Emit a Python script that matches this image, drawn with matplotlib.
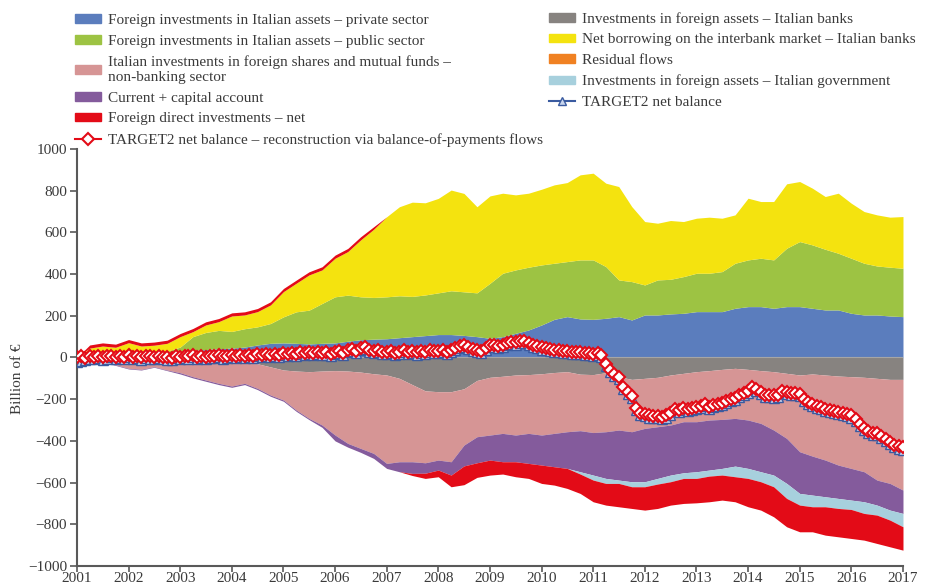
import numpy as np
import pandas as pd
import matplotlib
matplotlib.use("Agg")
import matplotlib.pyplot as plt
import matplotlib.dates as mdates
from matplotlib.patches import Patch
from matplotlib.lines import Line2D

plt.rcParams['font.family'] = ['Liberation Serif', 'DejaVu Serif']

# quarterly observations, 2001Q1 .. 2017Q1 (billion of euro, cumulated flows)
quarters = pd.date_range('2001-01-01', '2017-01-01', freq='QS')
months = pd.date_range('2001-01-01', '2017-01-01', freq='MS')

private = [0, 5, 10, 12, 15, 18, 20, 25, 30, 35, 38, 42, 45, 50, 60, 68, 70, 68, 65, 68,
           70, 78, 85, 88, 90, 95, 100, 105, 110, 110, 106, 100, 92,
           100, 116, 132, 156, 183, 196, 185, 183, 188, 196, 180, 204, 204, 209, 212, 220,
           220, 220, 236, 244, 244, 236, 244, 244, 236, 228, 228, 212, 204, 204, 199, 196]
public = [0, 2, 3, 3, 5, 3, 3, 5, 20, 65, 82, 88, 80, 88, 87, 95, 125, 151, 162, 191,
          221, 221, 206, 200, 201, 201, 193, 195, 200, 210, 209, 210, 264,
          304, 304, 301, 288, 269, 264, 283, 285, 248, 176, 184, 144, 168, 166, 176, 184,
          184, 192, 216, 224, 232, 232, 280, 312, 304, 291, 272, 264, 248, 235, 234, 232]
banks = [0, -2, -2, -3, 12, 10, -3, -3, -3, -3, -3, -3,
         -5, -15, -30, -45, -60, -65, -68, -65, -63, -65, -70, -78, -84, -100, -130, -160,
         -164, -164, -150, -110,
         -95, -90, -84, -82, -78, -72, -68, -80, -82, -73, -92, -105, -100, -95, -84, -76,
         -68, -63, -57, -52, -57, -63, -68, -76, -84, -79, -84, -89, -92, -95, -100, -105, -105]
interbank = [0, 38, 42, 34, 39, 24, 36, 38, 50, 24, 36, 42, 74, 66, 73, 89, 121, 137, 169, 161,
             185, 209, 273, 327, 384, 427, 452, 442, 453, 483, 472, 413, 419,
             384, 360, 355, 363, 376, 379, 408, 416, 400, 448, 360, 304, 272, 282, 264, 264,
             269, 256, 232, 296, 272, 280, 309, 288, 272, 253, 288, 264, 248, 245, 240, 248]
shares = [0, -8, -18, -32, -52, -57, -41, -57, -70, -89, -105, -121, -132, -109, -118, -135,
          -144, -187, -224, -259, -309, -347, -366, -382, -424, -400, -370, -345,
          -328, -336, -270, -270, -277, -274, -288, -282, -294, -292, -288, -271, -278,
          -283, -256, -251, -240, -237, -240, -232, -240, -237, -240, -240, -243, -253, -280,
          -312, -368, -394, -408, -427, -440, -453, -488, -499, -531]
current_acc = [0, -3, -3, -3, -3, -3, -3, -3, -6, -6, -6, -6, -6, -6, -6, -6, -6, -6, -6,
               -11, -28, -18, -19, -24, -24, -48, -56, -50, -48, -64, -100, -125, -120,
               -136, -128, -144, -144, -160, -176, -197, -204, -224, -240, -240, -256, -248,
               -240, -245, -240, -240, -235, -229, -232, -232, -216, -216, -200, -187, -176,
               -160, -152, -144, -120, -128, -112]
residual = [0] * 65
government = [0] * 39 + [-11, -24, -24, -16, -24, -24, -27, -32, -27, -32, -29, -32, -51,
                         -48, -48, -56, -72, -56, -56, -48, -48, -45, -56, -48, -48, -64]
fdi = [0, 15, 15, 15, 15, 15, 15, 15, 15, 15, 15, 15, 15, 15, 15, 15, 15, 15, 15, 15, 15,
       15, 15, 12, 0, 0, -10, -25, -32, -56, -90, -70, -72,
       -59, -72, -72, -88, -88, -96, -93, -104, -104, -112, -104, -112, -117, -112, -120,
       -117, -123, -120, -120, -136, -136, -144, -136, -128, -120, -136, -136, -139, -128,
       -136, -128, -112]

# monthly balances
target2 = [-20, -15, -12, -5, -8, -2, -10, -5, 0, -8, -4, -6,
           0, -8, -4, -10, -2, -6, -8, -3, -6, -10, -12, -4,
           -8, -2, -6, 0, -6, -3, -7, -1, -4, 1, -5, -2,
           0, -4, 2, -2, 4, -1, 5, 1, 6, 2, 8, 4,
           10, 5, 12, 8, 15, 10, 18, 12, 16, 10, 14, 8,
           15, 20, 12, 25, 30, 22, 35, 40, 28, 20, 25, 18,
           15, 20, 12, 18, 25, 16, 20, 14, 22, 18, 26, 20,
           20, 24, 18, 26, 35, 45, 48, 40, 32, 26, 22, 35,
           52, 48, 45, 52, 60, 66, 62, 70, 68, 58, 52, 45,
           38, 35, 30, 26, 28, 22, 20, 18, 16, 15, 12, 10,
           8, 10, 0, -40, -70, -90, -105, -150, -175, -195, -250, -275,
           -282, -288, -290, -292, -294, -288, -275, -255, -260, -250, -258, -250,
           -246, -242, -235, -248, -238, -232, -228, -220, -210, -202, -190, -182,
           -170, -150, -160, -175, -188, -190, -192, -188, -170, -175, -180, -178,
           -185, -210, -225, -235, -242, -248, -255, -260, -265, -272, -278, -282,
           -288, -305, -328, -350, -362, -370, -372, -385, -402, -415, -428, -440,
           -445]
recon = [0, 5, -2, 8, 3, 6, 0, 5, 8, 2, 6, 4,
         10, 3, 6, 0, 8, 5, 2, 7, 4, 0, -3, 6,
         2, 8, 5, 10, 4, 7, 3, 9, 6, 11, 5, 8,
         10, 6, 12, 8, 14, 9, 15, 11, 16, 12, 18, 14,
         20, 15, 22, 18, 25, 20, 28, 22, 26, 20, 24, 18,
         25, 30, 22, 35, 40, 32, 45, 50, 38, 30, 35, 28,
         25, 30, 22, 28, 35, 26, 30, 24, 32, 28, 36, 30,
         30, 34, 28, 36, 45, 55, 58, 50, 42, 36, 32, 45,
         62, 58, 55, 62, 70, 76, 72, 80, 78, 68, 62, 55,
         48, 45, 40, 36, 38, 32, 30, 28, 26, 25, 22, 20,
         18, 20, 10, -30, -60, -80, -95, -140, -165, -185, -240, -265,
         -272, -278, -280, -282, -284, -278, -265, -245, -250, -240, -248, -240,
         -236, -232, -225, -238, -228, -222, -218, -210, -200, -192, -180, -172,
         -160, -140, -150, -165, -178, -180, -182, -178, -160, -165, -170, -168,
         -175, -200, -215, -225, -232, -238, -245, -250, -255, -262, -268, -272,
         -278, -295, -318, -340, -352, -360, -362, -375, -392, -405, -418, -425,
         -430]

area_series = [private, public, banks, interbank, shares, current_acc, residual, government, fdi]
area_colors = ['#5b7dbd', '#9dc343', '#878380', '#f4e30f', '#d69595', '#845b9c',
               '#f08122', '#a7d0dd', '#e30b17']

fig = plt.figure(figsize=(9.25, 5.85), dpi=100)
ax = fig.add_axes([0.0832, 0.0325, 0.893, 0.7128])

# positive parts stack up from zero, negative parts stack down
cum_pos = np.zeros(len(quarters))
cum_neg = np.zeros(len(quarters))
for vals, col in zip(area_series, area_colors):
    v = np.asarray(vals, dtype=float)
    p = np.clip(v, 0, None)
    q = np.clip(v, None, 0)
    ax.fill_between(quarters, cum_pos, cum_pos + p, color=col, lw=0, zorder=1)
    ax.fill_between(quarters, cum_neg, cum_neg + q, color=col, lw=0, zorder=1)
    cum_pos = cum_pos + p
    cum_neg = cum_neg + q

ax.axhline(0, color='#a6a6a6', lw=0.8, zorder=2)

ax.plot(months, target2, color='#3a5ba0', lw=1.5, marker='^', ms=6.5,
        mfc='#c9d6ee', mec='#3a5ba0', mew=1, zorder=3)
ax.plot(months, recon, color='#e30b17', lw=1.5, marker='D', ms=6.5,
        mfc='white', mec='#e30b17', mew=1.5, zorder=4)

ax.set_xlim(pd.Timestamp('2001-01-01'), pd.Timestamp('2017-01-01'))
ax.set_ylim(-1000, 1000)
ax.set_yticks(np.arange(-1000, 1001, 200))
ax.yaxis.set_major_formatter(matplotlib.ticker.FuncFormatter(
    lambda v, pos: f"{int(v)}".replace('-', '\u2212')))
ax.xaxis.set_major_locator(mdates.YearLocator())
ax.xaxis.set_major_formatter(mdates.DateFormatter('%Y'))
ax.set_ylabel('Billion of €', fontsize=11, color='#3a3a3a')
ax.yaxis.set_label_coords(-0.064, 0.45)

for s in ['top', 'right']:
    ax.spines[s].set_visible(False)
for s in ['left', 'bottom']:
    ax.spines[s].set_color('#595959')
    ax.spines[s].set_linewidth(1.5)
ax.tick_params(axis='both', colors='#595959', labelcolor='#3a3a3a', labelsize=11,
               length=5, width=1.2, pad=2)
ax.tick_params(axis='x', length=4, pad=0.5)

left_handles = [Patch(color=area_colors[0]), Patch(color=area_colors[1]),
                Patch(color=area_colors[4]), Patch(color=area_colors[5]),
                Patch(color=area_colors[8]),
                Line2D([], [], color='#e30b17', lw=1.5, marker='D', ms=6,
                       mfc='white', mec='#e30b17', mew=1.5)]
left_labels = ['Foreign investments in Italian assets \u2013 private sector',
               'Foreign investments in Italian assets \u2013 public sector',
               'Italian investments in foreign shares and mutual funds \u2013\nnon-banking sector',
               'Current + capital account',
               'Foreign direct investments \u2013 net',
               'TARGET2 net balance \u2013 reconstruction via balance-of-payments flows']
right_handles = [Patch(color=area_colors[2]), Patch(color=area_colors[3]),
                 Patch(color=area_colors[6]), Patch(color=area_colors[7]),
                 Line2D([], [], color='#3a5ba0', lw=1.5, marker='^', ms=6,
                        mfc='#c9d6ee', mec='#3a5ba0', mew=1)]
right_labels = ['Investments in foreign assets \u2013 Italian banks',
                'Net borrowing on the interbank market \u2013 Italian banks',
                'Residual flows',
                'Investments in foreign assets \u2013 Italian government',
                'TARGET2 net balance']

leg_kw = dict(frameon=False, fontsize=11, handlelength=1.7, handleheight=0.5,
              handletextpad=0.45, labelspacing=0.5, borderpad=0, borderaxespad=0,
              loc='upper left')
leg1 = fig.legend(left_handles, left_labels, bbox_to_anchor=(75 / 925, 1 - 14 / 585), **leg_kw)
leg2 = fig.legend(right_handles, right_labels, bbox_to_anchor=(549 / 925, 1 - 12 / 585), **leg_kw)
for leg in (leg1, leg2):
    for t in leg.get_texts():
        t.set_color('#3a3a3a')

fig.savefig('out.png', dpi=100)
